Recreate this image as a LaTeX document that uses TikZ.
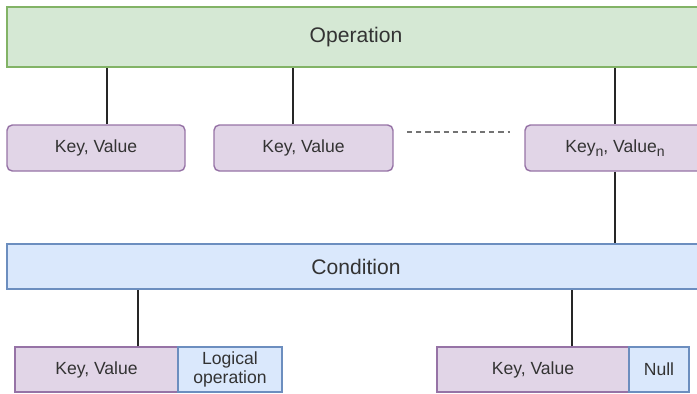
\documentclass[tikz,border=0pt]{standalone}
\usepackage{fontspec}
\setmainfont{Liberation Sans}
\usetikzlibrary{positioning}
\definecolor{opfill}{HTML}{D5E8D4}
\definecolor{opline}{HTML}{82B366}
\definecolor{kvfill}{HTML}{E1D5E7}
\definecolor{kvline}{HTML}{9673A6}
\definecolor{cfill}{HTML}{DAE8FC}
\definecolor{cline}{HTML}{6C8EBF}
\newcommand{\nsub}{\raisebox{-0.45ex}{\fontsize{8}{9}\selectfont n}}

\begin{document}
\begin{tikzpicture}[
    x=0.02cm, y=-0.02cm,
    font=\fontsize{10}{11}\selectfont,
    text=black!80,
    head/.style={draw=opline, fill=opfill, line width=0.8pt, inner sep=0pt,
        minimum width=13.96cm, minimum height=1.2cm, font=\fontsize{12}{14}\selectfont},
    cond/.style={draw=cline, fill=cfill, line width=0.8pt, inner sep=0pt,
        minimum width=13.96cm, minimum height=0.9cm, font=\fontsize{12}{14}\selectfont},
    pair/.style={draw=kvline, fill=kvfill, line width=0.8pt, rounded corners=3pt,
        inner sep=0pt, minimum width=3.58cm, minimum height=0.92cm},
    leaf/.style={draw=kvline, fill=kvfill, line width=0.8pt, inner sep=0pt,
        minimum height=0.9cm},
    tag/.style={draw=cline, fill=cfill, line width=0.8pt, inner sep=0pt,
        minimum height=0.9cm, align=center, font=\fontsize{10}{10.8}\selectfont},
    link/.style={draw=black!85, line width=0.8pt}
]
\clip (0,0) rectangle (697,393);
% operation and its key/value pairs
\node[head] (op) at (356,37) {Operation};
\node[pair, minimum width=3.56cm] (kv1) at (96,148) {Key, Value};
\node[pair] (kv2) at (303.5,148) {Key, Value};
\node[pair, minimum width=3.6cm] (kvn) at (615,148) {Key\nsub, Value\nsub};
\draw[link] ([xshift=0.22cm]kv1.north) -- ([xshift=0.22cm]kv1.north |- op.south);
\draw[link] ([xshift=-0.21cm]kv2.north) -- ([xshift=-0.21cm]kv2.north |- op.south);
\draw[link] (kvn.north) -- (kvn.north |- op.south);
\coordinate (dotsL) at (407,132);
\coordinate (dotsR) at (510,132);
\draw[black!55, line width=0.8pt, dash pattern=on 3pt off 2.2pt] (dotsL) -- (dotsR);

% condition
\node[cond] (cond) at (356,266.5) {Condition};
\draw[link] (kvn.south) -- (kvn.south |- cond.north);

\node[leaf, minimum width=3.26cm] (leftkv) at (96.5,369.5) {Key, Value};
\node[tag, minimum width=2.08cm] (logic) at (230,369.5) {Logical\\operation};
\node[leaf, minimum width=3.84cm] (rightkv) at (533,369.5) {Key, Value};
\node[tag, minimum width=1.2cm] (null) at (659,369.5) {Null};
\draw[link] ([xshift=0.83cm]leftkv.north) -- ([xshift=0.83cm]leftkv.north |- cond.south);
\draw[link] ([xshift=0.78cm]rightkv.north) -- ([xshift=0.78cm]rightkv.north |- cond.south);
\end{tikzpicture}
\end{document}
